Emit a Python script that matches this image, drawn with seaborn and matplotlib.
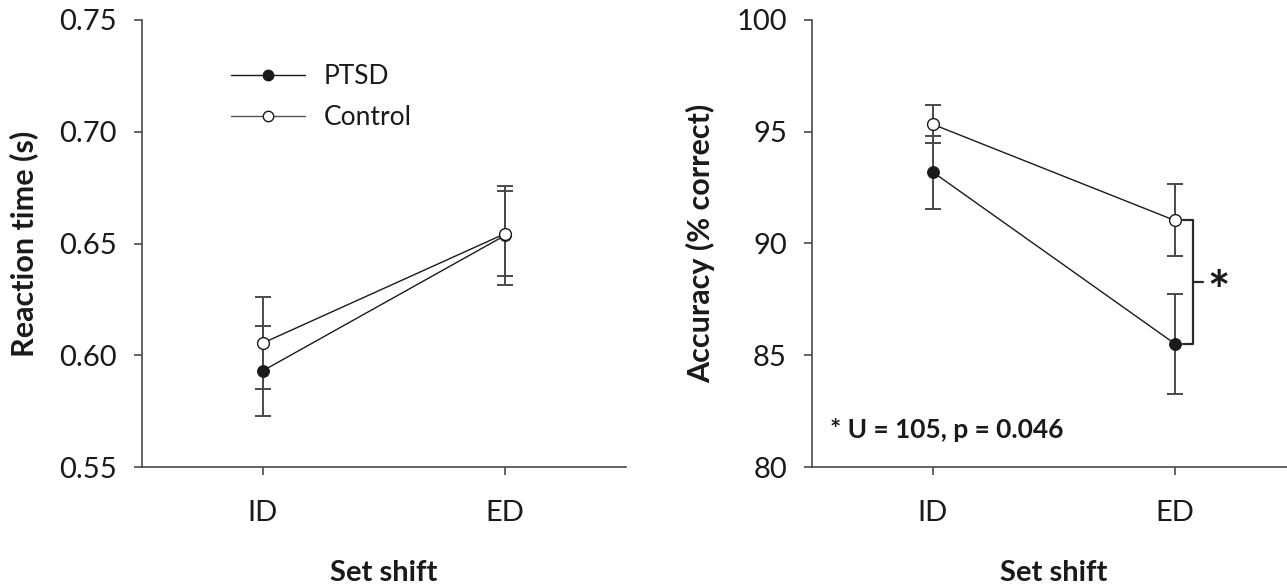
import matplotlib
matplotlib.use("Agg")
import matplotlib.pyplot as plt
import seaborn as sns
import pandas as pd
from matplotlib.lines import Line2D

# ---------------- data ----------------
conditions = ["ID", "ED"]
groups = ["PTSD", "Control"]

rt_ptsd = [0.5931, 0.6536]
rt_ptsd_err = [0.0202, 0.0220]
rt_control = [0.6055, 0.6544]
rt_control_err = [0.0207, 0.0189]

acc_ptsd = [93.19, 85.51]
acc_ptsd_err = [1.63, 2.25]
acc_control = [95.33, 91.03]
acc_control_err = [0.85, 1.61]

rt_ticks = [0.55, 0.60, 0.65, 0.70, 0.75]
acc_ticks = [80, 85, 90, 95, 100]

stat_text = "* U = 105, p = 0.046"

# ---------------- style ----------------
sns.set_theme(style="ticks")
plt.rcParams["font.family"] = ["Lato", "DejaVu Sans"]
TXT = "#1a1a1a"
SPINE = "#4a4a4a"
LINE = "#1a1a1a"

fig = plt.figure(figsize=(12.87, 5.88), dpi=100)
W, H = 1287, 588
ax1 = fig.add_axes([142 / W, 1 - 467 / H, 484 / W, 447 / H])
ax2 = fig.add_axes([812 / W, 1 - 467 / H, 484 / W, 447 / H])


def draw_panel(ax, p_vals, p_err, c_vals, c_err):
    df = pd.DataFrame({
        "cond": conditions * 2,
        "val": list(p_vals) + list(c_vals),
        "group": [groups[0]] * 2 + [groups[1]] * 2,
    })
    # error bars (behind)
    ax.errorbar(conditions, c_vals, yerr=c_err, fmt="none", ecolor=SPINE,
                elinewidth=1.4, capsize=6, capthick=1.4, zorder=1)
    ax.errorbar(conditions, p_vals, yerr=p_err, fmt="none", ecolor=SPINE,
                elinewidth=1.4, capsize=6, capthick=1.4, zorder=1)
    sns.lineplot(data=df[df.group == "PTSD"], x="cond", y="val", ax=ax,
                 color=LINE, lw=1.0, marker="o", markersize=8.5,
                 markerfacecolor=LINE, markeredgecolor=LINE, zorder=3,
                 legend=False)
    sns.lineplot(data=df[df.group == "Control"], x="cond", y="val", ax=ax,
                 color=LINE, lw=1.0, marker="o", markersize=8.5,
                 markerfacecolor="white", markeredgecolor=LINE,
                 markeredgewidth=1.0, zorder=4, legend=False)
    ax.set_xlim(-0.5, 1.5)
    ax.set_xlabel("Set shift", fontsize=21, fontweight="bold", color=TXT,
                  labelpad=24)
    sns.despine(ax=ax)
    for s in ["left", "bottom"]:
        ax.spines[s].set_color(SPINE)
        ax.spines[s].set_linewidth(1.2)
    ax.tick_params(axis="both", colors=SPINE, labelcolor=TXT, width=1.2,
                   labelsize=21)
    ax.tick_params(axis="y", length=6, pad=12)
    ax.tick_params(axis="x", length=6, pad=18)


draw_panel(ax1, rt_ptsd, rt_ptsd_err, rt_control, rt_control_err)
ax1.set_ylim(0.55, 0.75)
ax1.set_yticks(rt_ticks)
ax1.set_yticklabels([f"{t:.2f}" for t in rt_ticks])
ax1.set_ylabel("Reaction time (s)", fontsize=22, fontweight="bold",
               color=TXT, labelpad=15)

draw_panel(ax2, acc_ptsd, acc_ptsd_err, acc_control, acc_control_err)
ax2.set_ylim(80, 100)
ax2.set_yticks(acc_ticks)
ax2.set_yticklabels([str(t) for t in acc_ticks])
ax2.set_ylabel("Accuracy (% correct)", fontsize=22, fontweight="bold",
               color=TXT, labelpad=15)

# legend
handles = [
    Line2D([], [], color=LINE, lw=1.0, marker="o", markersize=7.5,
           markerfacecolor=LINE, markeredgecolor=LINE),
    Line2D([], [], color="#555555", lw=1.0, marker="o", markersize=7.5,
           markerfacecolor="white", markeredgecolor=LINE),
]
ax1.legend(handles, groups, loc="upper left", bbox_to_anchor=(0.184, 0.902),
           frameon=False, fontsize=19, handlelength=2.8, handletextpad=0.7,
           labelspacing=0.62, borderpad=0, borderaxespad=0, labelcolor=TXT)

# significance bracket on ED
y_top, y_bot = acc_control[1], acc_ptsd[1]
y_mid = (y_top + y_bot) / 2
xb = 1.074
ax2.plot([1.033, xb, xb, 1.033], [y_top, y_top, y_bot, y_bot],
         color="#2a2a2a", lw=1.6, zorder=2)
ax2.plot([xb, 1.116], [y_mid, y_mid], color="#2a2a2a", lw=1.6, zorder=2)
ax2.text(1.178, y_mid - 0.55, "*", fontsize=38, fontweight="bold", color=TXT,
         ha="center", va="center")
ax2.text(-0.425, 81.65, stat_text, fontsize=19, fontweight="bold",
         color=TXT, ha="left", va="center")

fig.savefig("out.png", dpi=100)
